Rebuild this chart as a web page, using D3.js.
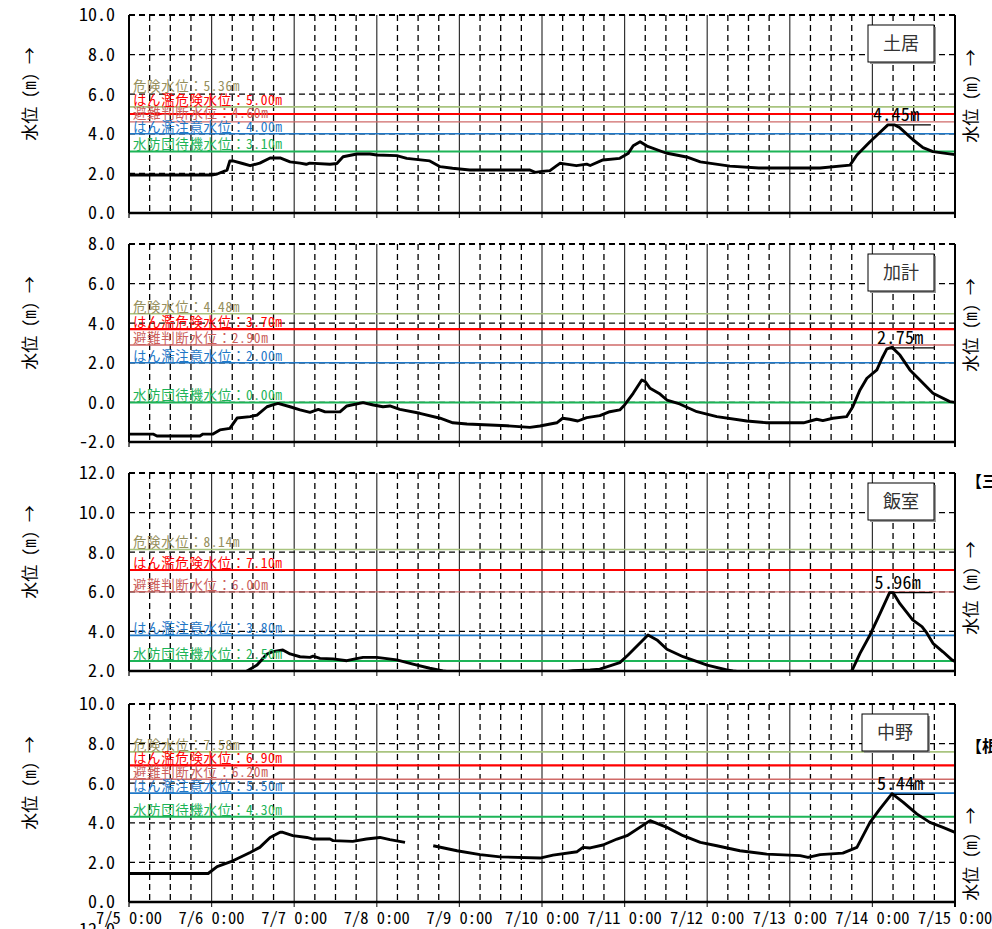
<!DOCTYPE html>
<html>
<head>
<meta charset="utf-8">
<script src="https://cdn.jsdelivr.net/npm/d3@7"></script>
<style>
  body { margin: 0; background: #fff; }
  svg { display: block; }
  text { font-family: "Noto Sans Mono CJK JP", "Noto Sans CJK JP", sans-serif; }
</style>
</head>
<body>
<svg width="992" height="929"></svg>
<script>
const svg = d3.select("svg");

// stations, y ranges and threshold levels
const stations = ["土居", "加計", "飯室", "中野"];
const yDomains = [[0, 10], [-2, 8], [2, 12], [0, 10]];
const thresholdNames = ["危険水位", "はん濫危険水位", "避難判断水位", "はん濫注意水位", "水防団待機水位"];
const doiThresholds = [5.36, 5.00, 4.60, 4.00, 3.10];
const kakeThresholds = [4.48, 3.70, 2.90, 2.00, 0.00];
const imuroThresholds = [8.14, 7.10, 6.00, 3.80, 2.50];
const nakanoThresholds = [7.58, 6.90, 6.20, 5.50, 4.30];
const peakLabels = [4.45, 2.75, 5.96, 5.44];

// water level: [hours since 7/5 0:00, metres]
const doiLevels = [[0,1.92],[24,1.92],[25.6,1.97],[28.5,2.17],[29.3,2.63],[30.2,2.63],[33,2.5],[35.2,2.39],[38,2.52],[41,2.78],[43.9,2.78],[46.8,2.58],[49.7,2.52],[51.5,2.46],[52.5,2.52],[58.4,2.46],[60.4,2.5],[62.2,2.84],[66.2,2.98],[70,2.98],[72,2.93],[77.8,2.9],[80.7,2.76],[87.4,2.63],[90.4,2.34],[94,2.26],[99,2.17],[116.5,2.17],[118,2.05],[120,2.1],[122.3,2.14],[125.2,2.51],[127,2.47],[130,2.39],[133,2.47],[134,2.4],[137.7,2.68],[142.6,2.76],[145,3.0],[146.5,3.4],[148.5,3.6],[150.5,3.38],[156,3.03],[162,2.83],[166,2.58],[174.6,2.37],[183,2.27],[200.8,2.27],[209.5,2.42],[211.5,2.93],[215.3,3.6],[218,4.04],[220.5,4.45],[222.5,4.45],[224,4.3],[227.8,3.7],[230.7,3.3],[233.6,3.1],[240,2.95]];
const kakeLevels = [[0,-1.6],[7,-1.6],[8.1,-1.7],[20.6,-1.7],[21.5,-1.6],[24.4,-1.6],[26.4,-1.39],[29.3,-1.31],[31.4,-0.79],[35.2,-0.72],[37.2,-0.64],[40.1,-0.22],[41.8,-0.13],[43.3,-0.05],[46.8,-0.22],[49.7,-0.38],[52.6,-0.5],[55,-0.35],[57,-0.48],[61.3,-0.48],[63.3,-0.18],[68,-0.01],[71,-0.13],[73.8,-0.22],[75.8,-0.18],[78.7,-0.35],[84.5,-0.55],[90.4,-0.8],[94.1,-1.03],[98.2,-1.09],[109.8,-1.18],[116.5,-1.26],[119.4,-1.19],[124.3,-1.03],[126,-0.8],[128,-0.85],[130.4,-0.94],[133,-0.77],[136.8,-0.67],[139.7,-0.47],[142.6,-0.38],[144,-0.13],[146.5,0.46],[149,1.13],[150,1.05],[151.4,0.71],[154.3,0.42],[156.3,0.12],[160,-0.08],[165,-0.47],[170.8,-0.72],[179.5,-0.94],[185.3,-1.03],[196,-1.03],[199.8,-0.85],[201.6,-0.92],[204.5,-0.8],[208.5,-0.72],[210.3,-0.22],[212.4,0.63],[214.4,1.22],[217.3,1.64],[218.8,2.23],[220.2,2.7],[221.7,2.78],[224,2.39],[226.9,1.64],[229.8,1.13],[233.6,0.46],[238.5,0.04],[240,0]];
const imuroLevels = [[0,1.5],[30,1.5],[34.3,2.0],[37.2,2.3],[40.1,2.86],[41.8,2.98],[44.7,3.06],[46.8,2.86],[49.7,2.72],[52.6,2.69],[53.5,2.75],[55.5,2.64],[59.3,2.61],[63.3,2.52],[65,2.59],[68,2.69],[72,2.69],[77.8,2.56],[82.5,2.35],[87.4,2.14],[91.2,2.0],[100,1.8],[120,1.8],[129,2.02],[134,2.05],[136.8,2.09],[142.6,2.42],[145,2.81],[150.8,3.82],[153.4,3.57],[156.3,3.1],[161,2.72],[168,2.3],[173.7,2.05],[175.5,2.0],[185,1.8],[205,1.8],[210,2.0],[212.4,2.89],[215.3,3.82],[218.2,4.9],[221,5.96],[222,5.96],[224,5.4],[227.7,4.58],[230.4,4.24],[231.8,3.92],[233.6,3.4],[236.5,2.97],[239.1,2.56],[240,2.48]];
const nakanoLevels = [[0,1.44],[23,1.44],[25.6,1.79],[30.2,2.08],[35.2,2.5],[38,2.76],[41,3.26],[43.9,3.52],[44.7,3.52],[47.6,3.35],[51.7,3.26],[53.5,3.18],[58.4,3.18],[59.3,3.1],[65,3.06],[69,3.18],[72.9,3.26],[75.8,3.15],[80.2,3.01],[84,null],[88.4,2.84],[95.3,2.59],[102,2.39],[107.8,2.28],[119.4,2.22],[123.2,2.37],[130.2,2.54],[131.9,2.76],[134,2.73],[137.7,2.88],[141.8,3.18],[144.7,3.35],[151.4,4.11],[156.3,3.77],[161,3.35],[166,3.01],[170.8,2.84],[177.5,2.59],[185.3,2.42],[195,2.34],[197.3,2.25],[200.8,2.39],[207.4,2.47],[211.5,2.76],[215.3,4.02],[218.2,4.7],[221.7,5.47],[224.9,5.04],[228.9,4.45],[232.7,4.02],[236.5,3.77],[240,3.52]];

const thresholds = [doiThresholds, kakeThresholds, imuroThresholds, nakanoThresholds];
const levels = [doiLevels, kakeLevels, imuroLevels, nakanoLevels];

const thresholdLine = ["#a9c47f", "#ff0000", "#cf6a68", "#1f78c8", "#1db457"];
const thresholdText = ["#968f5c", "#ff0000", "#cc5f5c", "#1f78c8", "#1db457"];
const thresholdWidth = [1.6, 2.2, 1.3, 1.6, 2];

const start = new Date(2023, 6, 5, 0, 0);
const end = new Date(2023, 6, 15, 0, 0);
const toDate = h => new Date(start.getTime() + h * 3600e3);

const left = 129, right = 955;
const tops = [15, 244, 473, 704];
const ph = 198;

const x = d3.scaleTime().domain([start, end]).range([left, right]);
const fmt = d3.timeFormat("%-m/%-d %-H:%M");

// width of a string set in a gothic font: full-width = 1em, half-width = 0.5em
const emWidth = s => Array.from(s).reduce((w, c) => w + (c.charCodeAt(0) < 0x100 ? 0.5 : 1), 0);

stations.forEach((name, i) => {
  const top = tops[i], bottom = top + ph;
  const y = d3.scaleLinear().domain(yDomains[i]).range([bottom, top]);
  const g = svg.append("g");

  g.append("clipPath").attr("id", "clip" + i)
    .append("rect").attr("x", left).attr("y", top).attr("width", right - left).attr("height", ph);

  // vertical grid: dashed every 6h, solid at each day
  const sixHours = d3.timeHour.every(6).range(start, end);
  g.selectAll(".vg").data(sixHours.filter(d => d.getHours() !== 0)).join("line")
    .attr("x1", d => x(d)).attr("x2", d => x(d)).attr("y1", top).attr("y2", bottom)
    .attr("stroke", "#000").attr("stroke-width", 1.3).attr("stroke-dasharray", "6,4");
  g.selectAll(".vd").data(d3.timeDay.range(d3.timeDay.offset(start, 1), end)).join("line")
    .attr("x1", d => x(d)).attr("x2", d => x(d)).attr("y1", top).attr("y2", bottom + 5)
    .attr("stroke", "#333").attr("stroke-width", 1.2);

  // horizontal grid
  const yt = y.ticks(5);
  g.selectAll(".hg").data(yt.filter(t => t !== yDomains[i][0])).join("line")
    .attr("x1", left).attr("x2", right).attr("y1", d => y(d)).attr("y2", d => y(d))
    .attr("stroke", "#000").attr("stroke-width", d => d === yDomains[i][1] ? 2 : 1.3)
    .attr("stroke-dasharray", "6,4");

  // threshold lines
  g.selectAll(".th").data(thresholds[i]).join("line")
    .attr("x1", left).attr("x2", right).attr("y1", d => y(d)).attr("y2", d => y(d))
    .attr("stroke", (d, k) => thresholdLine[k]).attr("stroke-width", (d, k) => thresholdWidth[k]);

  // water level curve
  const line = d3.line()
    .defined(d => d[1] != null)
    .x(d => x(toDate(d[0])))
    .y(d => y(d[1]));
  g.append("path").datum(levels[i])
    .attr("clip-path", `url(#clip${i})`)
    .attr("fill", "none").attr("stroke", "#000").attr("stroke-width", 2.9)
    .attr("stroke-linejoin", "round")
    .attr("d", line);

  // frame
  g.append("line").attr("x1", left).attr("x2", left).attr("y1", top).attr("y2", bottom)
    .attr("stroke", "#000").attr("stroke-width", 2);
  g.append("line").attr("x1", right).attr("x2", right).attr("y1", top).attr("y2", bottom + 5)
    .attr("stroke", "#000").attr("stroke-width", 2);
  g.append("line").attr("x1", left).attr("x2", right).attr("y1", bottom).attr("y2", bottom)
    .attr("stroke", "#000").attr("stroke-width", 2.4);
  g.append("line").attr("x1", left).attr("x2", left).attr("y1", bottom).attr("y2", bottom + 5)
    .attr("stroke", "#000").attr("stroke-width", 1.2);

  // y tick labels
  g.selectAll(".yl").data(yt).join("text")
    .attr("x", 115).attr("y", d => y(d)).attr("dy", "0.36em")
    .attr("text-anchor", "end").attr("font-size", 18).attr("fill", "#000")
    .attr("textLength", d => emWidth(d.toFixed(1)) * 18).attr("lengthAdjust", "spacing")
    .text(d => d.toFixed(1));

  // threshold labels, pushed up when they crowd together
  let prev = Infinity;
  const labelY = [];
  for (let k = thresholds[i].length - 1; k >= 0; k--) {
    const c = Math.min(y(thresholds[i][k]) - 7, prev - 13.5);
    labelY[k] = c;
    prev = c;
  }
  const labelText = (d, k) => `${thresholdNames[k]}：${d.toFixed(2)}m`;
  g.selectAll(".tl").data(thresholds[i]).join("text")
    .attr("x", 133).attr("y", (d, k) => labelY[k]).attr("dy", "0.36em")
    .attr("font-size", 13.5).attr("fill", (d, k) => thresholdText[k])
    .attr("textLength", (d, k) => emWidth(labelText(d, k)) * 14.2).attr("lengthAdjust", "spacing")
    .text(labelText);

  // station box
  const bx = i === 3 ? 862 : 868, by = top + 10;
  g.append("rect").attr("x", bx + 2).attr("y", by + 2).attr("width", 66).attr("height", 37).attr("fill", "#999");
  g.append("rect").attr("x", bx).attr("y", by).attr("width", 66).attr("height", 37)
    .attr("fill", "#fff").attr("stroke", "#000").attr("stroke-width", 1);
  g.append("text").attr("x", bx + 33).attr("y", by + 19).attr("dy", "0.36em")
    .attr("text-anchor", "middle").attr("font-size", 18).attr("fill", "#333").text(name);

  // peak annotation
  const peak = levels[i].filter(d => d[1] != null).reduce((a, b) => b[1] > a[1] ? b : a);
  const px = x(toDate(peak[0])), py = y(peakLabels[i]);
  const peakText = peakLabels[i].toFixed(2) + "m";
  g.append("line").attr("x1", px).attr("x2", px + 43).attr("y1", py).attr("y2", py)
    .attr("stroke", "#000").attr("stroke-width", 1.3);
  g.append("text").attr("x", px - 15).attr("y", py - 4)
    .attr("font-size", 18).attr("fill", "#000")
    .attr("textLength", emWidth(peakText) * 18.5).attr("lengthAdjust", "spacing")
    .text(peakText);

  // axis titles
  g.append("text").attr("transform", `translate(30,${top + 79}) rotate(-90)`)
    .attr("text-anchor", "middle").attr("dy", "0.36em").attr("font-size", 17).attr("fill", "#000")
    .text("水位 (m) →");
  const ry = i < 2 ? top + 81 : top + 115 + (i === 3 ? 35 : 0);
  g.append("text").attr("transform", `translate(971,${ry}) rotate(-90)`)
    .attr("text-anchor", "middle").attr("dy", "0.36em").attr("font-size", 17).attr("fill", "#000")
    .text("水位 (m) →");
});

// x tick labels under the last panel
svg.selectAll(".xl").data(d3.timeDay.range(start, d3.timeDay.offset(end, 1))).join("text")
  .attr("x", d => x(d)).attr("y", 924).attr("text-anchor", "middle")
  .attr("font-size", 16.5).attr("fill", "#000")
  .attr("textLength", d => emWidth(fmt(d)) * 16.5).attr("lengthAdjust", "spacing")
  .text(d => fmt(d));

// clipped neighbours of the original sheet
svg.append("text").attr("x", 966).attr("y", 487).attr("font-size", 16).attr("font-weight", "bold").text("【三");
svg.append("text").attr("x", 966).attr("y", 752).attr("font-size", 16).attr("font-weight", "bold").text("【根");
svg.append("text").attr("x", 115).attr("y", 936).attr("text-anchor", "end").attr("font-size", 18).text("12.0");
</script>
</body>
</html>
